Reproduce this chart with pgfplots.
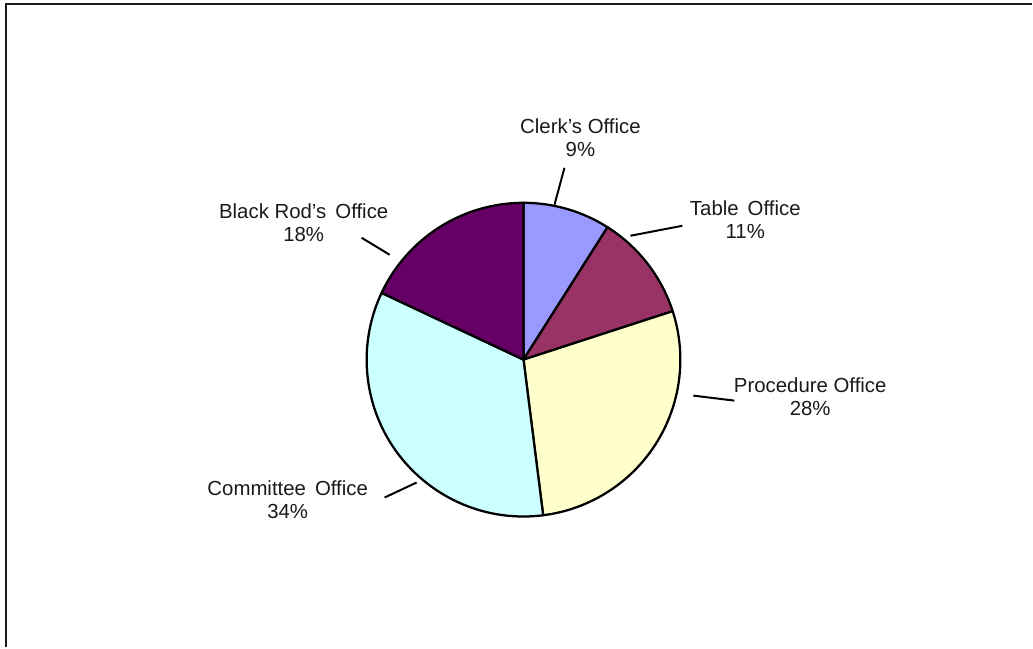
\documentclass[border=0pt]{standalone}
\usepackage{pgfplots}
\pgfplotsset{compat=1.18}
\usepackage{fontspec}
\setmainfont{Liberation Sans}
\definecolor{clerk}{HTML}{9999FF}
\definecolor{tableo}{HTML}{993366}
\definecolor{proc}{HTML}{FFFFCC}
\definecolor{comm}{HTML}{CCFFFF}
\definecolor{rod}{HTML}{660066}
\definecolor{txt}{HTML}{1A1A1A}
% pie slice: start angle, percent, colour
\newcommand\slice[3]{%
  \pgfmathsetmacro\endang{#1-3.6*#2}%
  \edef\temp{\noexpand\filldraw[fill=#3,draw=black,line width=1.7pt,line join=round]
    (axis cs:524,288) -- ++(#1:117.75pt) arc[start angle=#1,end angle=\endang,radius=117.75pt] -- cycle;}%
  \temp}
\begin{document}
\begin{tikzpicture}
\begin{axis}[
  width=774.75pt, height=486pt, scale only axis,
  xmin=0, xmax=1033, ymin=0, ymax=648,
  hide axis, clip=false,
]
\path (axis cs:0,0) rectangle (axis cs:1033,648);
% frame
\draw[line width=1.5pt, color=black!90, line cap=butt] (axis cs:6,0) -- (axis cs:6,643.5) -- (axis cs:1033,643.5);
% slices (values in percent, clockwise from 12 o'clock)
\slice{90}{9}{clerk}
\slice{57.6}{11}{tableo}
\slice{18}{28}{proc}
\slice{-82.8}{34}{comm}
\slice{-205.2}{18}{rod}
% leader lines
\draw[line width=1.5pt] (axis cs:565,480) -- (axis cs:555,443);
\draw[line width=1.5pt] (axis cs:683,422) -- (axis cs:631,412);
\draw[line width=1.5pt] (axis cs:735,247) -- (axis cs:694,252);
\draw[line width=1.5pt] (axis cs:385,150) -- (axis cs:417,165);
\draw[line width=1.5pt] (axis cs:362,410) -- (axis cs:390,393);
% labels
\begin{scope}[every node/.style={align=center, text=txt, font=\fontsize{15.3}{17.4}\selectfont, inner sep=0pt}]
\node at (axis cs:581,510.5) {Clerk’s Office\\9\%};
\node at (axis cs:746,428) {Table\, Office\\11\%};
\node at (axis cs:811,251) {Procedure Office\\28\%};
\node at (axis cs:288,148) {Committee\, Office\\34\%};
\node at (axis cs:304,425) {Black Rod’s\, Office\\18\%};
\end{scope}
\end{axis}
\end{tikzpicture}
\end{document}
